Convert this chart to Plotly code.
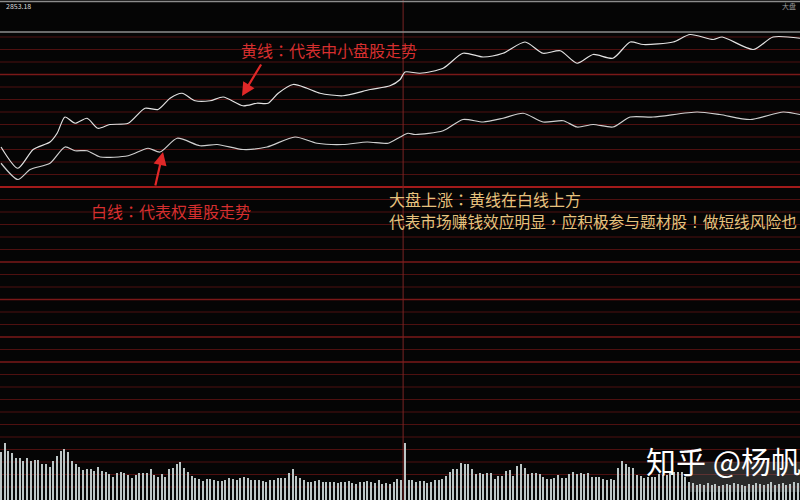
import plotly.graph_objects as go

# ---- data ----
# minute index of intraday line samples, and % change values
yellow_x = [0, 4.5, 8.6, 13.1, 15.0, 17.1, 19.8, 23.0, 25.9, 29.1, 34.0, 38.5, 42.0, 45.2, 48.4,
            51.9, 55.9, 59.4, 64.7, 68.4, 71.4, 74.1, 78.1, 81.8, 85.3, 91.4, 98.7, 104.0, 106.7,
            108.0, 112.0, 118.2, 123.5, 128.9, 134.2, 140.1, 144.9, 149.5, 154.0, 158.3, 163.6,
            168.2, 171.7, 179.7, 184.2, 190.4, 192.8, 201.1, 206.4, 213.6]
yellow_y = [0.32, 0.15, 0.30, 0.36, 0.43, 0.56, 0.51, 0.55, 0.47, 0.50, 0.51, 0.63, 0.62, 0.71, 0.75,
            0.69, 0.69, 0.72, 0.65, 0.67, 0.67, 0.75, 0.82, 0.79, 0.75, 0.73, 0.78, 0.81, 0.86,
            0.92, 0.91, 0.95, 1.07, 1.04, 1.07, 1.16, 1.07, 1.09, 0.99, 1.06, 1.03,
            1.16, 1.14, 1.16, 1.22, 1.18, 1.20, 1.10, 1.20, 1.19]

white_x = [0, 4.5, 7.8, 13.1, 17.1, 19.8, 23.0, 26.5, 34.0, 39.3, 42.5, 47.1, 53.2, 57.8, 64.7,
           71.1, 78.6, 84.5, 91.4, 97.9, 103.5, 106.7, 108.8, 110.7, 118.2, 123.5, 128.9, 134.2,
           139.6, 144.9, 150.3, 154.0, 158.3, 163.6, 168.2, 174.3, 186.1, 192.2, 200.3, 209.1, 213.6]
white_y = [0.19, 0.06, 0.14, 0.19, 0.32, 0.29, 0.29, 0.24, 0.25, 0.31, 0.28, 0.39, 0.33, 0.34, 0.30,
           0.32, 0.40, 0.35, 0.34, 0.36, 0.35, 0.40, 0.43, 0.42, 0.45, 0.54, 0.52, 0.55,
           0.59, 0.52, 0.53, 0.48, 0.50, 0.48, 0.56, 0.56, 0.60, 0.58, 0.54, 0.60, 0.58]

volume = [48, 57, 49, 47, 42, 42, 39, 42, 39, 40,
          40, 36, 36, 33, 39, 44, 49, 51, 48, 39,
          36, 33, 30, 31, 31, 29, 33, 29, 28, 26,
          23, 27, 28, 27, 25, 22, 25, 27, 27, 27,
          31, 25, 23, 26, 23, 31, 32, 36, 38, 32,
          28, 24, 22, 21, 19, 21, 21, 20, 19, 19,
          20, 22, 21, 20, 22, 23, 22, 20, 20, 20,
          19, 18, 20, 20, 22, 22, 22, 27, 31, 24,
          22, 20, 18, 18, 19, 20, 18, 18, 18, 18,
          17, 18, 18, 19, 17, 16, 18, 18, 19, 18,
          17, 20, 16, 17, 16, 18, 21,
          20, 57,
          20, 20, 18, 19, 19, 17, 18, 20, 20, 21,
          24, 28, 31, 31, 37, 36, 36, 31, 26, 27,
          26, 27, 27, 21, 24, 24, 29, 30, 24, 34,
          36, 32, 26, 27, 27, 26, 23, 21, 21, 22,
          25, 22, 22, 26, 28, 26, 27, 26, 27, 23,
          23, 23, 21, 20, 21, 20, 32, 39, 36, 33,
          32, 25, 24, 22, 23, 23, 23, 26, 25, 25,
          27, 28, 28, 28, 23, 18, 17,
          15, 16, 15, 17, 15, 16, 14, 15, 16, 15,
          17, 16, 15, 14, 16, 15, 17, 16, 15, 16,
          18, 15, 16, 17, 15, 16, 18, 17]
minutes = list(range(len(volume)))

grid_levels = [k / 10 for k in range(-24, 13)]
bright_levels = [0.9, -0.6, -0.9, -1.2, -1.4]
midday = 107.5

FONT = "Noto Sans CJK TC"
RED = "#d62f2f"
GOLD = "#e6c27e"

fig = go.Figure()
fig.add_trace(go.Bar(x=minutes, y=volume, yaxis="y2", width=0.34,
                     marker=dict(color="#bcc6c6", line=dict(width=0)), hoverinfo="skip"))
fig.add_trace(go.Scatter(x=white_x, y=white_y, mode="lines",
                         line=dict(color="#d0d0d0", width=1.2, shape="spline", smoothing=0.7)))
fig.add_trace(go.Scatter(x=yellow_x, y=yellow_y, mode="lines",
                         line=dict(color="#e2e2e2", width=1.2, shape="spline", smoothing=0.7)))

shapes = []
for g in grid_levels:
    if abs(g) < 1e-9:
        col, w = "#a21a1a", 2.2
    elif any(abs(g - b) < 1e-9 for b in bright_levels):
        col, w = "#7a1818", 1.3
    else:
        col, w = "#4e1010", 1
    shapes.append(dict(type="line", xref="paper", x0=0, x1=1, yref="y", y0=g, y1=g,
                       line=dict(color=col, width=w), layer="below"))
shapes.append(dict(type="line", xref="x", x0=midday, x1=midday, yref="paper", y0=0, y1=1,
                   line=dict(color="#7a2424", width=1), layer="below"))
for yp in [1 - 1.5 / 500, 1 - 32 / 500]:
    shapes.append(dict(type="line", xref="paper", x0=0, x1=1, yref="paper", y0=yp, y1=yp,
                       line=dict(color="#8c8c8c", width=1.5)))
shapes.append(dict(type="rect", xref="paper", x0=690 / 800, x1=1, yref="paper",
                   y0=1 - 492 / 500, y1=1 - 462 / 500,
                   fillcolor="rgba(130,130,130,0.30)", line=dict(width=0), layer="below"))


def px(xp, yp):
    return xp / 800, 1 - yp / 500


annotations = []


def text(s, xp, yp, color, size, anchor="left"):
    x, y = px(xp, yp)
    annotations.append(dict(text=s, x=x, y=y, xref="paper", yref="paper", showarrow=False,
                            xanchor=anchor, yanchor="middle",
                            font=dict(family=FONT, size=size, color=color)))


text("黄线：代表中小盘股走势", 239, 50, RED, 16)
text("白线：代表权重股走势", 89, 211, RED, 16)
text("大盘上涨：黄线在白线上方", 387, 199, GOLD, 16)
text("代表市场赚钱效应明显，应积极参与题材股！做短线风险也", 387, 222, GOLD, 15.7)
text("知乎 @杨帆", 644, 460, "#ffffff", 30)
text("2853.18", 4, 6, "#dcdcdc", 7)
text("大盘", 798, 6, "#9a9a9a", 7, anchor="right")

for (hx, hy, ax, ay) in [(242, 96, 20, -33), (163, 152, -8, 35)]:
    x, y = px(hx, hy)
    annotations.append(dict(x=x, y=y, xref="paper", yref="paper", text="", showarrow=True,
                            ax=ax, ay=ay, arrowhead=2, arrowsize=1.2, arrowwidth=2.2,
                            arrowcolor="#e02828"))

fig.update_layout(
    width=800, height=500,
    margin=dict(l=0, r=0, t=0, b=0),
    paper_bgcolor="#050505", plot_bgcolor="#050505",
    showlegend=False, bargap=0,
    xaxis=dict(range=[-0.27, 213.6], visible=False, fixedrange=True),
    yaxis=dict(range=[-2.504, 1.496], visible=False, domain=[0, 1], fixedrange=True),
    yaxis2=dict(range=[0, 500], visible=False, overlaying="y", fixedrange=True),
    shapes=shapes, annotations=annotations,
)

fig.write_html("out.html", config={"displayModeBar": False},
               post_script="document.body.style.margin='0px';document.body.style.padding='0px';"
                           "document.body.style.background='#050505';document.body.style.overflow='hidden';")
